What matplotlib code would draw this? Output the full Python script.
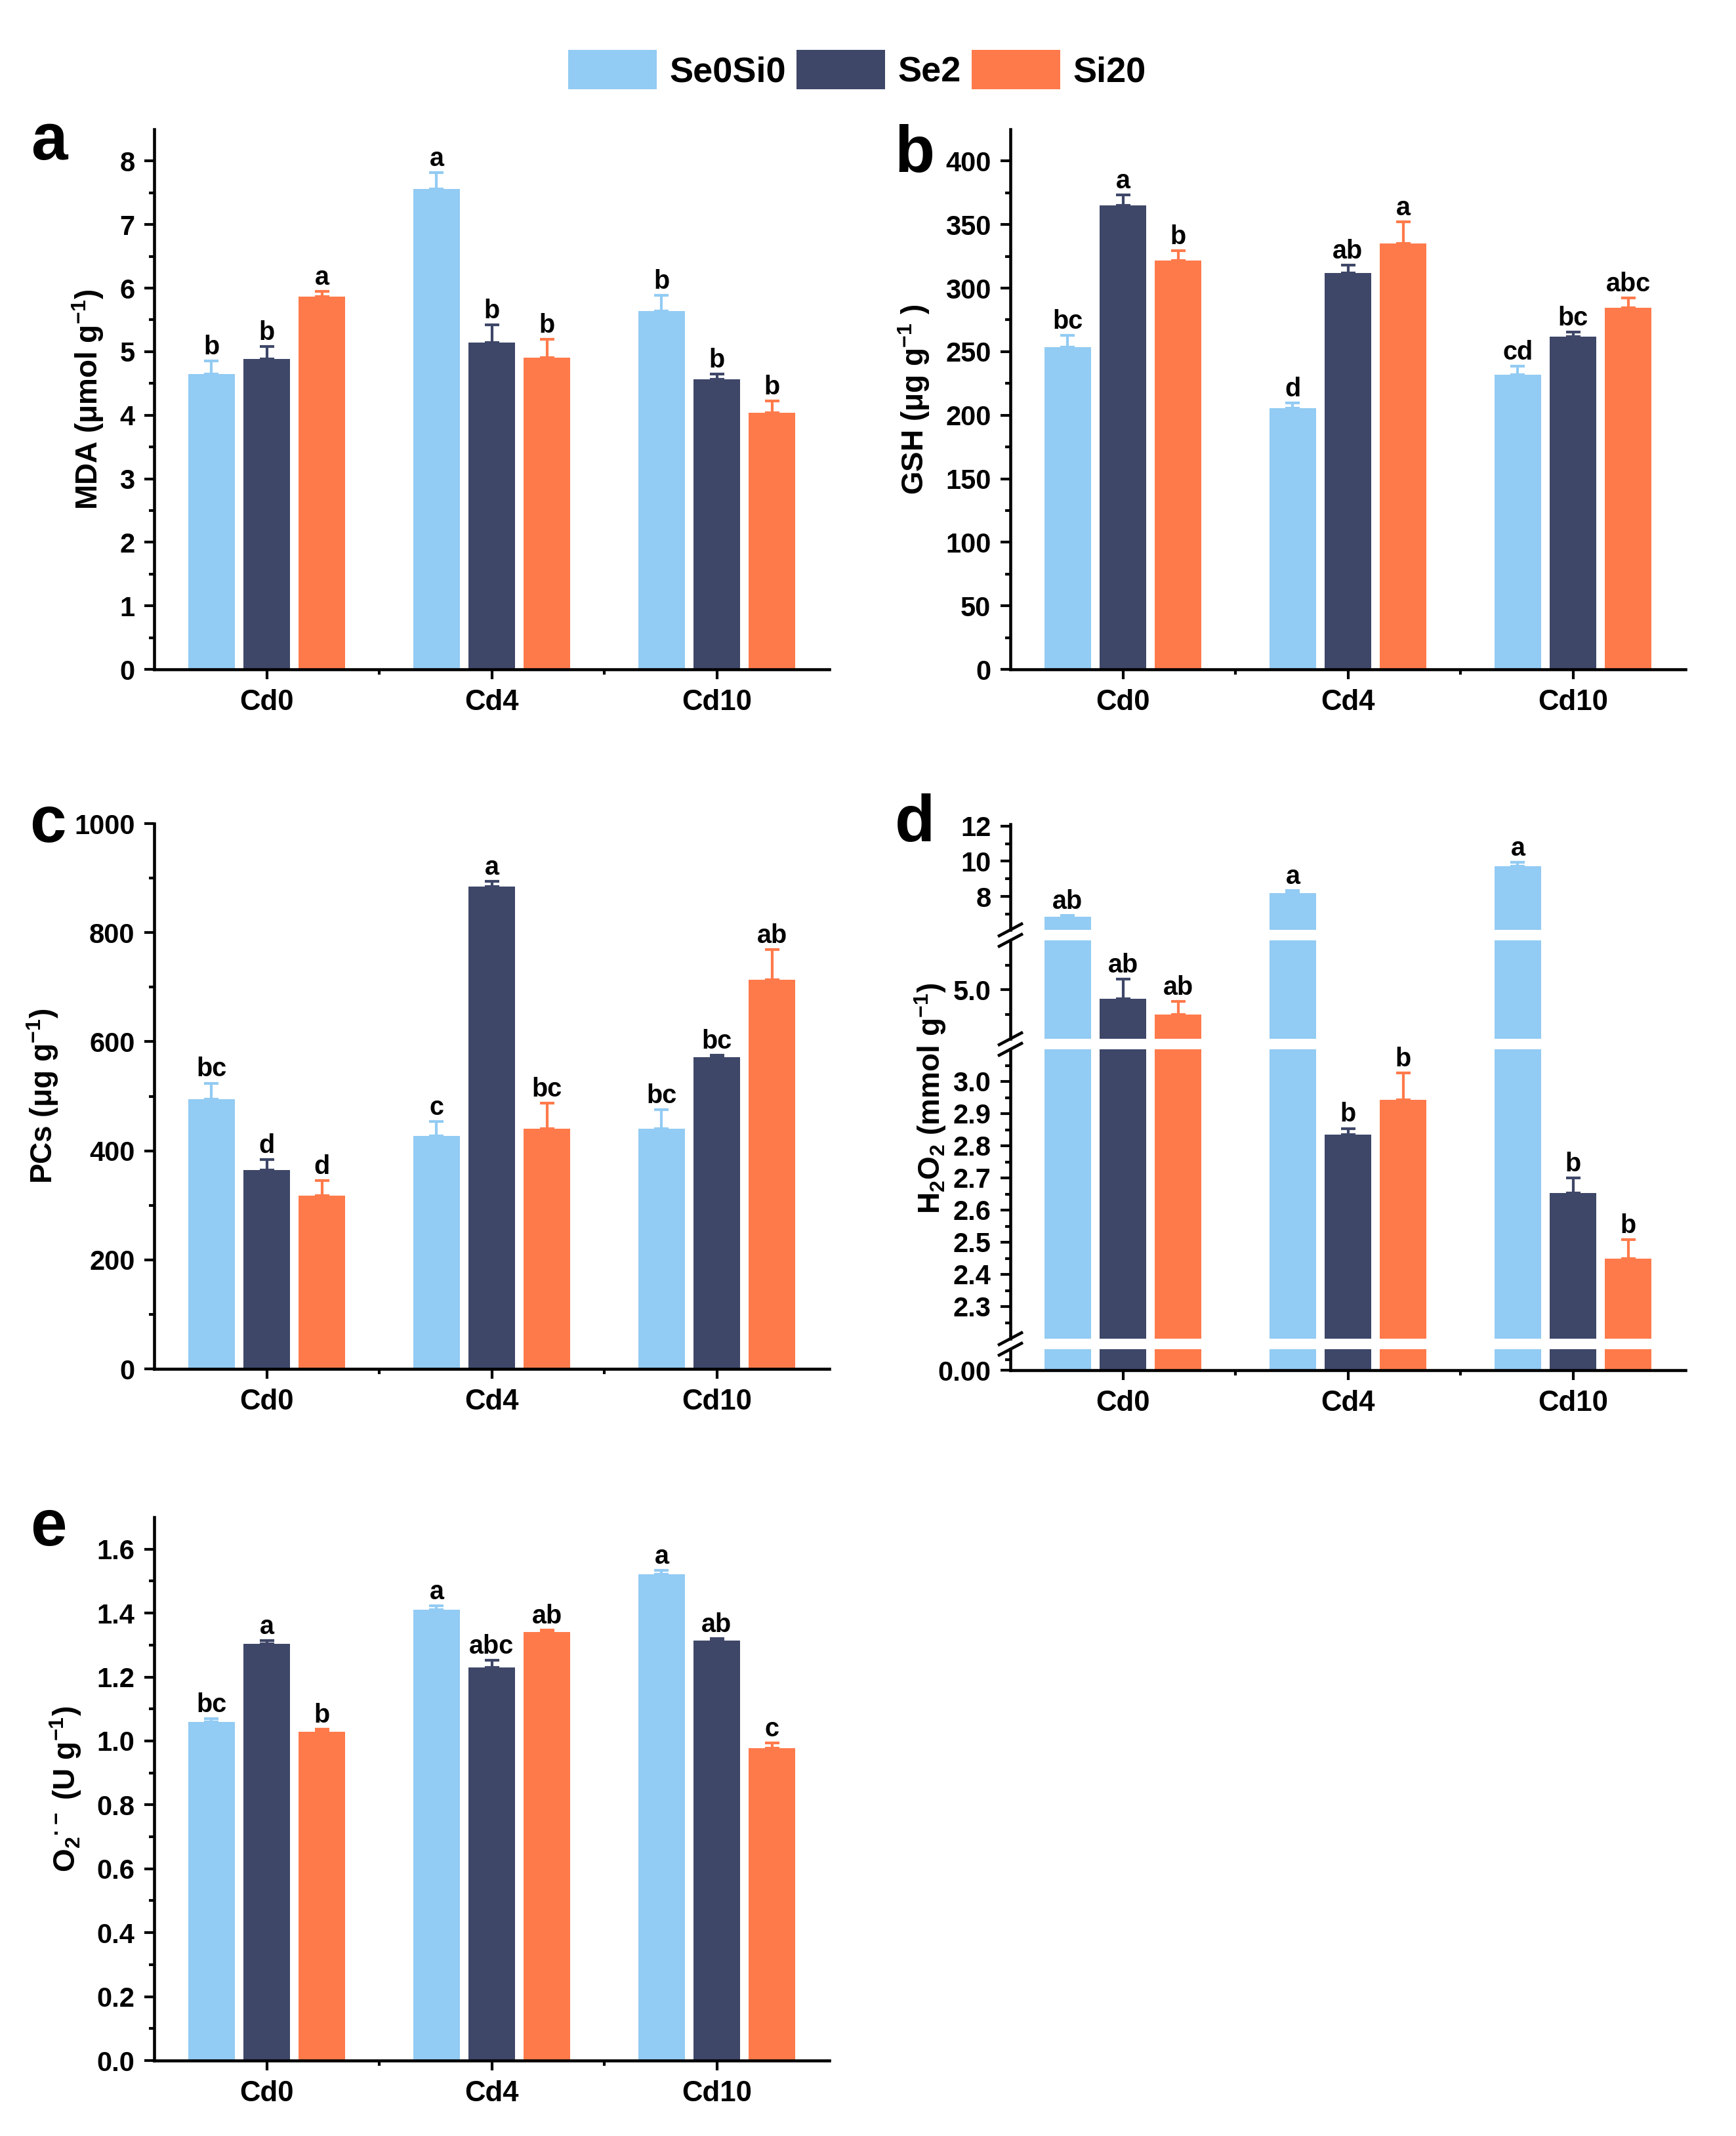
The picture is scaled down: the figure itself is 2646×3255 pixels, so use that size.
import matplotlib
matplotlib.use('Agg')
import matplotlib.pyplot as plt
import numpy as np
from matplotlib.ticker import FixedLocator, FormatStrFormatter
from matplotlib.lines import Line2D

plt.rcParams['font.family'] = ['Liberation Sans', 'DejaVu Sans']
plt.rcParams['font.weight'] = 'bold'
plt.rcParams['axes.labelweight'] = 'bold'
plt.rcParams['mathtext.fontset'] = 'custom'
plt.rcParams['mathtext.rm'] = 'Liberation Sans:bold'
plt.rcParams['mathtext.bf'] = 'Liberation Sans:bold'
plt.rcParams['mathtext.it'] = 'Liberation Sans:bold'
plt.rcParams['mathtext.default'] = 'bf'

# Data (rows: Se0Si0, Se2, Si20; columns: Cd0, Cd4, Cd10)
groups = ['Cd0', 'Cd4', 'Cd10']
treatments = ['Se0Si0', 'Se2', 'Si20']
colors = ['#92CBF3', '#3E4768', '#FF7A4B']

mda_mean = [[4.65, 7.56, 5.64], [4.89, 5.14, 4.57], [5.87, 4.91, 4.04]]
mda_err = [[0.20, 0.26, 0.25], [0.19, 0.28, 0.08], [0.08, 0.28, 0.18]]
mda_letters = [['b', 'a', 'b'], ['b', 'b', 'b'], ['a', 'b', 'b']]

gsh_mean = [[253.6, 205.7, 231.9], [364.9, 311.8, 262.0], [321.5, 335.1, 284.6]]
gsh_err = [[9.0, 4.0, 6.5], [8.6, 6.5, 3.2], [8.0, 17.0, 7.5]]
gsh_letters = [['bc', 'd', 'cd'], ['a', 'ab', 'bc'], ['b', 'a', 'abc']]

pcs_mean = [[495, 427, 441], [365, 884, 571], [318, 440, 713]]
pcs_err = [[29, 27, 34], [19, 10, 4], [27, 47, 56]]
pcs_letters = [['bc', 'c', 'bc'], ['d', 'a', 'bc'], ['d', 'bc', 'ab']]

h2o2_mean = [[6.85, 8.20, 9.72], [4.81, 2.834, 2.654], [4.50, 2.943, 2.449]]
h2o2_err = [[0.08, 0.12, 0.22], [0.40, 0.020, 0.046], [0.26, 0.083, 0.060]]
h2o2_letters = [['ab', 'a', 'a'], ['ab', 'b', 'b'], ['ab', 'b', 'b']]

o2_mean = [[1.059, 1.411, 1.521], [1.303, 1.229, 1.314], [1.029, 1.340, 0.977]]
o2_err = [[0.010, 0.012, 0.012], [0.010, 0.024, 0.006], [0.008, 0.006, 0.016]]
o2_letters = [['bc', 'a', 'a'], ['a', 'abc', 'ab'], ['b', 'ab', 'c']]

x = np.arange(len(groups))
offset = 0.245
width = 0.207

W, H = 2646, 3255
fig = plt.figure(figsize=(W / 300, H / 300), dpi=300)


def box(l, t, r, b):
    return [l / W, 1 - b / H, (r - l) / W, (b - t) / H]


def style(ax, ylim, majors, minors, fmt=None, show_x=True):
    ax.set_xlim(-0.5, 2.5)
    ax.set_ylim(*ylim)
    for s in ['top', 'right']:
        ax.spines[s].set_visible(False)
    for s in ['left', 'bottom']:
        ax.spines[s].set_linewidth(1.1)
    ax.yaxis.set_major_locator(FixedLocator(majors))
    ax.yaxis.set_minor_locator(FixedLocator(minors))
    if fmt:
        ax.yaxis.set_major_formatter(FormatStrFormatter(fmt))
    ax.tick_params(axis='y', which='major', direction='out', length=3.6, width=1.0, labelsize=10)
    ax.tick_params(axis='y', which='minor', direction='out', length=2.0, width=1.0)
    if show_x:
        ax.set_xticks(x, groups)
        ax.xaxis.set_minor_locator(FixedLocator([0.5, 1.5]))
        ax.tick_params(axis='x', which='major', direction='out', length=3.6, width=1.0, labelsize=10.5)
        ax.tick_params(axis='x', which='minor', direction='out', length=2.0, width=1.0)
    else:
        ax.spines['bottom'].set_visible(False)
        ax.tick_params(axis='x', which='both', bottom=False, labelbottom=False)


def draw_bars(ax, means, errs):
    for i, t in enumerate(treatments):
        pos = x + (i - 1) * offset
        ax.bar(pos, means[i], width, color=colors[i], label=t, zorder=2)
        ax.errorbar(pos, means[i], yerr=[np.zeros(len(groups)), errs[i]], fmt='none',
                    ecolor=colors[i], elinewidth=1.0, capsize=2.6, capthick=1.0, zorder=3)


def add_letters(axes, means, errs, letters):
    for i in range(len(treatments)):
        pos = x + (i - 1) * offset
        for j in range(len(groups)):
            top = means[i][j] + errs[i][j]
            for ax in axes:
                lo, hi = ax.get_ylim()
                if lo <= top <= hi:
                    ax.annotate(letters[i][j], xy=(pos[j], top), xytext=(0, 0.5),
                                textcoords='offset points', ha='center', va='bottom',
                                fontsize=9.5, fontweight='bold', annotation_clip=False)
                    break


# Panel a
ax_a = fig.add_axes(box(235, 197, 1264, 1020))
draw_bars(ax_a, mda_mean, mda_err)
style(ax_a, (0, 8.5), np.arange(0, 9, 1), np.arange(0.5, 8.5, 1))
add_letters([ax_a], mda_mean, mda_err, mda_letters)
ax_a.set_ylabel('MDA (\u03bcmol g$^{-1}$)', fontsize=11, labelpad=5)

# Panel b
ax_b = fig.add_axes(box(1540, 197, 2569, 1020))
draw_bars(ax_b, gsh_mean, gsh_err)
style(ax_b, (0, 425), np.arange(0, 401, 50), np.arange(25, 425, 50))
add_letters([ax_b], gsh_mean, gsh_err, gsh_letters)
ax_b.set_ylabel('GSH (\u03bcg g$^{-1}$ )', fontsize=11, labelpad=5)

# Panel c
ax_c = fig.add_axes(box(235, 1255, 1264, 2086))
draw_bars(ax_c, pcs_mean, pcs_err)
style(ax_c, (0, 1000), np.arange(0, 1001, 200), np.arange(100, 1000, 200))
add_letters([ax_c], pcs_mean, pcs_err, pcs_letters)
ax_c.set_ylabel('PCs (\u03bcg g$^{-1}$)', fontsize=11, labelpad=5)

# Panel d: broken y axis made of four stacked segments
d_segments = [
    ((1256, 1417), (6.1, 12.1), [8, 10, 12], [7, 9, 11], '%d'),
    ((1433, 1583), (4.0, 6.0), [5.0], [4.5, 5.5], '%.1f'),
    ((1599, 2040), (2.2, 3.1), np.round(np.arange(2.3, 3.01, 0.1), 2),
     np.round(np.arange(2.25, 3.1, 0.1), 3), '%.1f'),
    ((2056, 2088), (0.0, 0.1), [0.0], [0.05], '%.2f'),
]
d_axes = []
for k, ((t, b), ylim, majors, minors, fmt) in enumerate(d_segments):
    ax = fig.add_axes(box(1540, t, 2569, b))
    draw_bars(ax, h2o2_mean, h2o2_err)
    style(ax, ylim, majors, minors, fmt, show_x=(k == len(d_segments) - 1))
    d_axes.append(ax)
add_letters(d_axes, h2o2_mean, h2o2_err, h2o2_letters)

# break marks on the y axis
sx = 1540
edges = []
for k in range(len(d_segments) - 1):
    edges.append(d_segments[k][0][1])
    edges.append(d_segments[k + 1][0][0])
for e in edges:
    fig.add_artist(Line2D([(sx - 17) / W, (sx + 17) / W], [1 - (e + 9) / H, 1 - (e - 9) / H],
                          color='black', lw=1.1, transform=fig.transFigure))
fig.text(1418 / W, 1 - 1674 / H, 'H$_2$O$_2$ (mmol g$^{-1}$)', rotation=90,
         ha='center', va='center', fontsize=11, fontweight='bold')

# Panel e
ax_e = fig.add_axes(box(235, 2312, 1264, 3140))
draw_bars(ax_e, o2_mean, o2_err)
style(ax_e, (0, 1.7), np.round(np.arange(0, 1.61, 0.2), 1), np.round(np.arange(0.1, 1.7, 0.2), 2), '%.1f')
add_letters([ax_e], o2_mean, o2_err, o2_letters)
ax_e.set_ylabel('O$_2$$^{\u00b7-}$ (U g$^{-1}$)', fontsize=11, labelpad=5)

# Panel letters
for lab, px, py in [('a', 47, 243), ('b', 1363, 262), ('c', 45, 1283),
                    ('d', 1364, 1282), ('e', 46, 2355)]:
    fig.text(px / W, 1 - py / H, lab, fontsize=24, fontweight='bold', va='baseline', ha='left')

# Legend
handles, labels = ax_a.get_legend_handles_labels()
bar_handles = [h for h in handles if hasattr(h, 'patches')]
fig.legend(bar_handles, treatments, ncol=3, loc='center', bbox_to_anchor=(1306 / W, 1 - 106 / H),
           frameon=False, prop={'weight': 'bold', 'size': 13}, handlelength=2.5,
           handleheight=1.3, handletextpad=0.35, columnspacing=0.3)

fig.savefig('out.png', dpi=300)
